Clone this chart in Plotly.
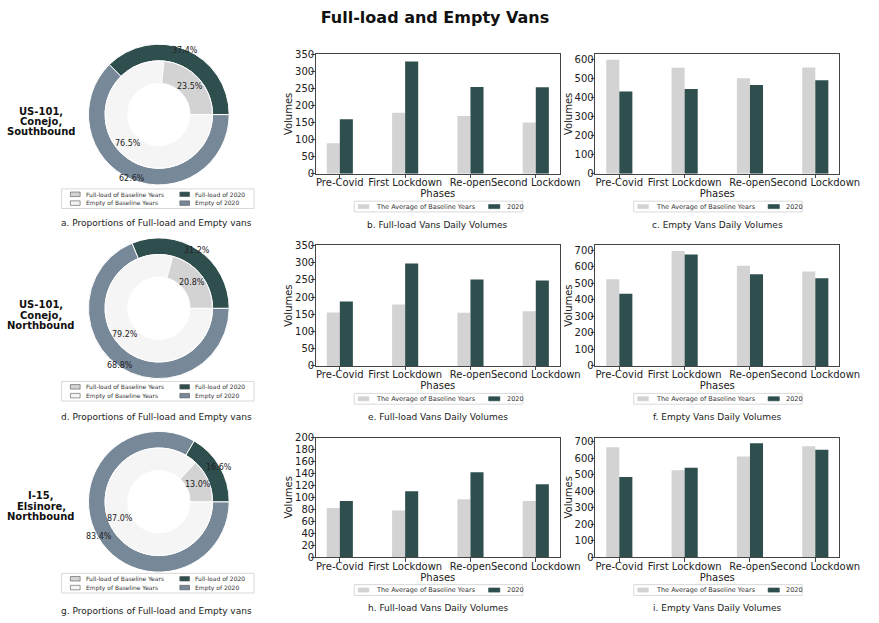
import numpy as np
import plotly.graph_objects as go

W, H = 879, 623
FONT = "DejaVu Sans"

# ---- data -------------------------------------------------------------
phases = ["Pre-Covid", "First Lockdown", "Re-open", "Second Lockdown"]

station_names = [
    ["US-101,", "Conejo,", "Southbound"],
    ["US-101,", "Conejo,", "Northbound"],
    ["I-15,", "Elsinore,", "Northbound"],
]

# share of vans (%) per station
full_share_base = [23.5, 20.8, 13.0]
empty_share_base = [76.5, 79.2, 87.0]
full_share_2020 = [37.4, 31.2, 16.6]
empty_share_2020 = [62.6, 68.8, 83.4]

# daily volumes per phase
full_base_sb = [89, 178, 169, 150]
full_2020_sb = [159, 328, 254, 253]
empty_base_sb = [598, 556, 501, 557]
empty_2020_sb = [431, 444, 465, 491]

full_base_nb = [155, 178, 154, 159]
full_2020_nb = [187, 297, 251, 248]
empty_base_nb = [524, 694, 605, 571]
empty_2020_nb = [436, 673, 554, 530]

full_base_i15 = [82, 78, 97, 94]
full_2020_i15 = [94, 110, 142, 122]
empty_base_i15 = [666, 527, 610, 672]
empty_2020_i15 = [485, 541, 690, 650]

full_base = [full_base_sb, full_base_nb, full_base_i15]
full_2020 = [full_2020_sb, full_2020_nb, full_2020_i15]
empty_base = [empty_base_sb, empty_base_nb, empty_base_i15]
empty_2020 = [empty_2020_sb, empty_2020_nb, empty_2020_i15]

full_ylim = [350, 350, 200]
full_dtick = [50, 50, 20]

donut_captions = ["a. Proportions of Full-load and Empty vans",
                  "d. Proportions of Full-load and Empty vans",
                  "g. Proportions of Full-load and Empty vans"]
full_captions = ["b. Full-load Vans Daily Volumes",
                 "e. Full-load Vans Daily Volumes",
                 "h. Full-load Vans Daily Volumes"]
empty_captions = ["c. Empty Vans Daily Volumes",
                  "f. Empty Vans Daily Volumes",
                  "i. Empty Vans Daily Volumes"]

# ---- style ------------------------------------------------------------
C_BASE_FULL = "#D3D3D3"
C_BASE_EMPTY = "#F5F5F5"
C_2020_FULL = "#2F4F4F"
C_2020_EMPTY = "#778899"
TXT = "#222222"
FRAME = "#444444"

# ---- layout geometry (pixels) ----------------------------------------
donut_cx = 162.5
donut_cy = [110.7, 308.2, 505.5]
R_OUT, R_MID, R_IN = 72, 55, 32
name_dy = [7.0, 7.0, 4.5]
leg_rows = [192.0, 388.3, 584.0]
leg_dy = 9.0
caption_y = [221.5, 419.0, 616.5]

plot_top = [49, 244, 440]
plot_bot = [171, 367, 562]
col_left = [323, 609]
col_right = [573, 859]


def fx(x):
    return x / W


def fy(y):
    return 1 - y / H


def patch(x0, x1, yc, h, color, edge="#555555"):
    return dict(type="rect", xref="paper", yref="paper",
                x0=fx(x0), x1=fx(x1), y0=fy(yc + h / 2), y1=fy(yc - h / 2),
                line=dict(color=edge, width=0.6), fillcolor=color)


def label(x, y, text, size, anchor="left", color="#333333", weight="normal"):
    return dict(x=fx(x), y=fy(y), xref="paper", yref="paper", text=text,
                showarrow=False, xanchor=anchor, yanchor="middle",
                font=dict(size=size, color=color, family=FONT, weight=weight))


fig = go.Figure()
annotations = []
shapes = []
layout_extra = {}

# ---- donuts -----------------------------------------------------------
for r in range(3):
    cx, cy = donut_cx, donut_cy[r]
    # empty slice listed first so that, going clockwise from 3 o'clock,
    # the full-load slice closes the ring just above the 3 o'clock mark
    outer_vals = [empty_share_2020[r], full_share_2020[r]]
    inner_vals = [empty_share_base[r], full_share_base[r]]

    fig.add_trace(go.Pie(
        values=outer_vals,
        labels=["Empty of 2020", "Full-load of 2020"],
        marker=dict(colors=[C_2020_EMPTY, C_2020_FULL],
                    line=dict(color="white", width=1)),
        hole=R_MID / R_OUT, sort=False, direction="clockwise",
        rotation=90, textinfo="none", showlegend=False, hoverinfo="label+percent",
        domain=dict(x=[fx(cx - R_OUT), fx(cx + R_OUT)],
                    y=[fy(cy + R_OUT), fy(cy - R_OUT)]),
    ))
    fig.add_trace(go.Pie(
        values=inner_vals,
        labels=["Empty of Baseline Years", "Full-load of Baseline Years"],
        marker=dict(colors=[C_BASE_EMPTY, C_BASE_FULL],
                    line=dict(color="white", width=1)),
        hole=R_IN / R_MID, sort=False, direction="clockwise",
        rotation=90, textinfo="none", showlegend=False, hoverinfo="label+percent",
        domain=dict(x=[fx(cx - R_MID), fx(cx + R_MID)],
                    y=[fy(cy + R_MID), fy(cy - R_MID)]),
    ))

    # percentage labels at the middle angle of each slice (angles clockwise
    # from 3 o'clock in screen space)
    for vals, r_lab in ((outer_vals, 0.98 * R_OUT), (inner_vals, 0.6 * R_OUT)):
        v = np.asarray(vals, float)
        frac = v / v.sum()
        mids = (np.cumsum(frac) - frac / 2) * 2 * np.pi
        for val, a in zip(v, mids):
            annotations.append(label(cx + r_lab * np.cos(a), cy + r_lab * np.sin(a),
                                     f"{val:.1f}%", 8, anchor="center", color=TXT))

    # station name
    for k, line in enumerate(station_names[r]):
        annotations.append(label(42, cy + name_dy[r] + (k - 1) * 10.5, line, 10,
                                 anchor="center", color="#111111", weight="bold"))

    # legend for the two rings
    ly = leg_rows[r]
    shapes.append(dict(type="rect", xref="paper", yref="paper",
                       x0=fx(63), x1=fx(260), y0=fy(ly - 5.5), y1=fy(ly + leg_dy + 5.5),
                       line=dict(color="#d9d9d9", width=1), fillcolor="white",
                       layer="below"))
    entries = [
        ("Full-load of Baseline Years", C_BASE_FULL, 72, ly),
        ("Full-load of 2020", C_2020_FULL, 184, ly),
        ("Empty of Baseline Years", C_BASE_EMPTY, 72, ly + leg_dy),
        ("Empty of 2020", C_2020_EMPTY, 184, ly + leg_dy),
    ]
    for text, col, x0, yy in entries:
        shapes.append(patch(x0, x0 + 10, yy, 4.6, col))
        annotations.append(label(x0 + 14, yy, text, 6))

    annotations.append(label(160, caption_y[r], donut_captions[r], 9,
                             anchor="center", color=TXT))

# ---- bar panels -------------------------------------------------------
ax = 0
for r in range(3):
    for c in range(2):
        ax += 1
        xa = "x" if ax == 1 else f"x{ax}"
        ya = "y" if ax == 1 else f"y{ax}"
        if c == 0:
            base, now = full_base[r], full_2020[r]
            ymax, dtick = full_ylim[r], full_dtick[r]
            cap = full_captions[r]
        else:
            base, now = empty_base[r], empty_2020[r]
            ymax = 1.05 * max(max(base), max(now))
            dtick = 100
            cap = empty_captions[r]

        fig.add_trace(go.Bar(x=phases, y=base, name="The Average of Baseline Years",
                             marker=dict(color=C_BASE_FULL, line=dict(width=0)),
                             xaxis=xa, yaxis=ya, showlegend=False))
        fig.add_trace(go.Bar(x=phases, y=now, name="2020",
                             marker=dict(color=C_2020_FULL, line=dict(width=0)),
                             xaxis=xa, yaxis=ya, showlegend=False))

        key = "" if ax == 1 else str(ax)
        x0, x1 = col_left[c], col_right[c]
        y0, y1 = plot_top[r], plot_bot[r]
        axis_common = dict(showline=True, linecolor=FRAME, linewidth=1, mirror=True,
                           ticks="outside", ticklen=3.5, tickcolor=FRAME,
                           tickfont=dict(size=10, color=TXT, family=FONT),
                           showgrid=False, zeroline=False)
        layout_extra["xaxis" + key] = dict(
            domain=[fx(x0), fx(x1)], anchor=ya, type="category",
            categoryorder="array", categoryarray=phases,
            range=[-0.37, 3.37], tickangle=0, ticklabelstandoff=-4,
            title=dict(text="Phases", standoff=0,
                       font=dict(size=10, color=TXT, family=FONT)),
            **axis_common)
        layout_extra["yaxis" + key] = dict(
            domain=[fy(y1), fy(y0)], anchor=xa, range=[0, ymax], dtick=dtick,
            tick0=0, ticklabelstandoff=-5,
            title=dict(text="Volumes", standoff=0,
                       font=dict(size=10, color=TXT, family=FONT)),
            **axis_common)

        # legend under the panel
        xc = (x0 + x1) / 2
        ly = y1 + 33.5
        shapes.append(dict(type="rect", xref="paper", yref="paper",
                           x0=fx(xc - 85.5), x1=fx(xc + 87), y0=fy(ly + 5.5),
                           y1=fy(ly - 5.5), line=dict(color="#d9d9d9", width=1),
                           fillcolor="white", layer="below"))
        shapes.append(patch(xc - 81.5, xc - 70.5, ly, 4.2, C_BASE_FULL, edge=C_BASE_FULL))
        annotations.append(label(xc - 65, ly, "The Average of Baseline Years", 6.5))
        shapes.append(patch(xc + 52, xc + 63.5, ly, 4.2, C_2020_FULL, edge=C_2020_FULL))
        annotations.append(label(xc + 68.5, ly, "2020", 6.5))

        annotations.append(label(xc, y1 + 52, cap, 9, anchor="center", color=TXT))

fig.update_layout(
    width=W, height=H,
    margin=dict(l=0, r=0, t=0, b=0),
    paper_bgcolor="white", plot_bgcolor="white",
    barmode="group", bargap=0.6, bargroupgap=0,
    title=dict(text="Full-load and Empty Vans", x=fx(435), y=fy(17),
               xanchor="center", yanchor="middle",
               font=dict(size=16, color="#111111", family=FONT, weight="bold")),
    font=dict(family=FONT),
    annotations=annotations,
    shapes=shapes,
    showlegend=False,
    **layout_extra,
)

fig.write_html("out.html")
